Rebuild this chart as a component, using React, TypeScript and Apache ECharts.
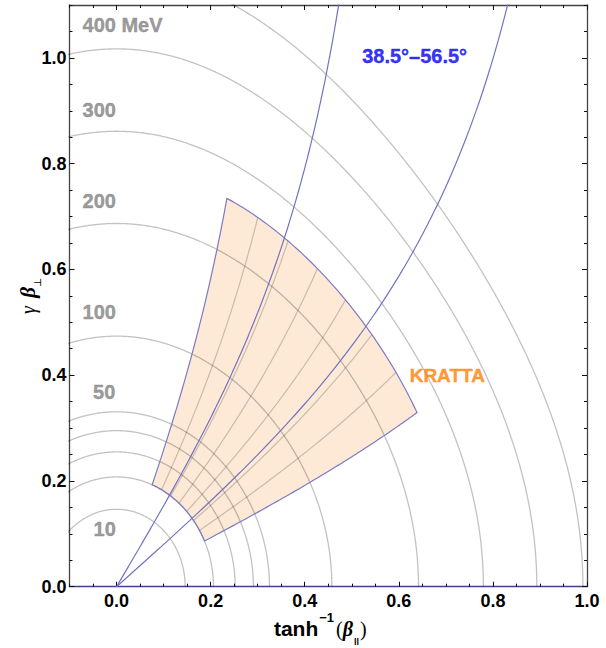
import React, { useEffect, useRef } from 'react';
import * as echarts from 'echarts';

// ---- data ----
const PROTON_MASS = 938.272; // MeV
const energyLevels = [10, 20, 30, 40, 50, 100, 200, 300, 400, 500]; // constant kinetic-energy contours (MeV)
const angleLines = [38.5, 56.5]; // constant lab-angle lines (deg)
const krattaAngleRange = [24.6, 68.2]; // deg
const krattaEnergyRange = [20, 258]; // MeV
const krattaColumns = 7;

const energyLabelText = ['400 MeV', '300', '200', '100', '50', '10'];
const energyLabelX = [-0.0734, -0.0734, -0.0734, -0.0734, -0.051, -0.05];
const energyLabelY = [1.062, 0.901, 0.73, 0.519, 0.369, 0.109];

const angleLabelText = ['38.5°–56.5°'];
const angleLabelX = [0.521];
const angleLabelY = [1.004];

const detectorLabelText = ['KRATTA'];
const detectorLabelX = [0.622];
const detectorLabelY = [0.3996];

const xTickLabels = [0, 0.2, 0.4, 0.6, 0.8, 1.0];
const yTickLabels = [0, 0.2, 0.4, 0.6, 0.8, 1.0];
const X_MIN = -0.1;
const X_MAX = 1.0;
const Y_MIN = 0;
const Y_MAX = 1.1;
const MINOR_STEP = 0.05;

// ---- kinematics helpers ----
function kinPoint(T: number, thetaDeg: number): number[] {
  const g = 1 + T / PROTON_MASS;
  const P = Math.sqrt(g * g - 1);
  const th = (thetaDeg * Math.PI) / 180;
  return [Math.atanh((P * Math.cos(th)) / g), P * Math.sin(th)];
}
function momentumPoint(P: number, thetaDeg: number): number[] {
  const th = (thetaDeg * Math.PI) / 180;
  const g = Math.sqrt(1 + P * P);
  return [Math.atanh((P * Math.cos(th)) / g), P * Math.sin(th)];
}
function energyArc(T: number): number[][] {
  const pts: number[][] = [];
  for (let i = 0; i <= 720; i++) pts.push(kinPoint(T, (180 * i) / 720));
  return pts;
}
function angleLine(thetaDeg: number): number[][] {
  const pts: number[][] = [];
  const pMax = Y_MAX / Math.sin((thetaDeg * Math.PI) / 180) + 0.05;
  for (let i = 0; i <= 300; i++) pts.push(momentumPoint((pMax * i) / 300, thetaDeg));
  return pts;
}
function krattaOutline(): number[][] {
  const [t0, t1] = krattaAngleRange;
  const [e0, e1] = krattaEnergyRange;
  const N = 80;
  const pts: number[][] = [];
  for (let i = 0; i <= N; i++) pts.push(kinPoint(e0, t0 + ((t1 - t0) * i) / N));
  for (let i = 1; i <= N; i++) pts.push(kinPoint(e0 + ((e1 - e0) * i) / N, t1));
  for (let i = 1; i <= N; i++) pts.push(kinPoint(e1, t1 - ((t1 - t0) * i) / N));
  for (let i = 1; i < N; i++) pts.push(kinPoint(e1 - ((e1 - e0) * i) / N, t0));
  return pts;
}
function krattaMesh(): number[][][] {
  const [t0, t1] = krattaAngleRange;
  const [e0, e1] = krattaEnergyRange;
  const lines: number[][][] = [];
  for (let k = 1; k < krattaColumns; k++) {
    const th = t0 + ((t1 - t0) * k) / krattaColumns;
    const l: number[][] = [];
    for (let i = 0; i <= 60; i++) l.push(kinPoint(e0 + ((e1 - e0) * i) / 60, th));
    lines.push(l);
  }
  return lines;
}
function minorTicks(min: number, max: number, majors: number[]): number[] {
  const out: number[] = [];
  const n = Math.round((max - min) / MINOR_STEP);
  for (let i = 0; i <= n; i++) {
    const v = Math.round((min + i * MINOR_STEP) * 1000) / 1000;
    if (!majors.some((m) => Math.abs(m - v) < 1e-6)) out.push(v);
  }
  return out;
}

const SANS = "'Liberation Sans', Arial, Helvetica, sans-serif";
const SERIF = "'Liberation Serif', 'DejaVu Serif', serif";
const FRAME = '#444444';

export default function App() {
  const ref = useRef<HTMLDivElement>(null);
  useEffect(() => {
    const chart = echarts.init(ref.current!, null, { renderer: 'svg' });

    const xMinor = minorTicks(X_MIN, X_MAX, xTickLabels);
    const yMinor = minorTicks(Y_MIN, Y_MAX, yTickLabels);

    const mkX = (position: string, ticks: number[], len: number, labels: boolean, line: boolean, lineColor: string, extra: any = {}) => ({
      type: 'value',
      position,
      min: X_MIN,
      max: X_MAX,
      splitLine: { show: false },
      axisLine: { show: line, onZero: false, lineStyle: { color: lineColor, width: 1.3 } },
      axisTick: { show: true, inside: true, length: len, customValues: ticks, lineStyle: { color: '#111', width: 1 } },
      axisLabel: labels
        ? { show: true, customValues: ticks, margin: 5, formatter: (v: number) => v.toFixed(1), fontFamily: SANS, fontWeight: 'bold', fontSize: 18, color: '#000' }
        : { show: false },
      ...extra,
    });
    const mkY = (position: string, ticks: number[], len: number, labels: boolean, line: boolean, lineColor: string, extra: any = {}) => ({
      type: 'value',
      position,
      min: Y_MIN,
      max: Y_MAX,
      splitLine: { show: false },
      axisLine: { show: line, onZero: false, lineStyle: { color: lineColor, width: 1.3 } },
      axisTick: { show: true, inside: true, length: len, customValues: ticks, lineStyle: { color: '#111', width: 1 } },
      axisLabel: labels
        ? { show: true, customValues: ticks, margin: 3, formatter: (v: number) => v.toFixed(1), fontFamily: SANS, fontWeight: 'bold', fontSize: 18, color: '#000' }
        : { show: false },
      ...extra,
    });

    const xName = {
      name: '{t|tanh}{sup|−1}{p|(}{b|β}{sub|ll}{p|)}',
      nameLocation: 'middle',
      nameGap: 24,
      nameMoveOverlap: false,
      nameTextStyle: {
        padding: [0, 16, 0, 0],
        rich: {
          t: { fontFamily: SANS, fontWeight: 'bold', fontSize: 21, lineHeight: 36, color: '#000' },
          sup: { fontFamily: SANS, fontWeight: 'bold', fontSize: 13, verticalAlign: 'top', color: '#000', padding: [0, 2, 0, 1] },
          p: { fontFamily: SERIF, fontSize: 20, lineHeight: 36, color: '#000' },
          b: { fontFamily: SERIF, fontWeight: 'bold', fontStyle: 'italic', fontSize: 20, lineHeight: 36, color: '#000' },
          sub: { fontFamily: SANS, fontWeight: 'bold', fontSize: 9, verticalAlign: 'bottom', lineHeight: 30, color: '#000', padding: [0, 1, 0, 1] },
        },
      },
    };
    const yName = {
      name: '{g|γ} {b|β}{sub|⊥}',
      nameLocation: 'middle',
      nameRotate: 90,
      nameGap: 27,
      nameMoveOverlap: false,
      nameTextStyle: {
        rich: {
          g: { fontFamily: SERIF, fontStyle: 'italic', fontSize: 20, lineHeight: 30, color: '#000', padding: [0, 5, 0, 0] },
          b: { fontFamily: SERIF, fontWeight: 'bold', fontStyle: 'italic', fontSize: 21, lineHeight: 30, color: '#000' },
          sub: { fontFamily: SERIF, fontSize: 10, verticalAlign: 'bottom', lineHeight: 14, color: '#000' },
        },
      },
    };

    const arcSeries = energyLevels.map((T) => ({
      type: 'line',
      name: `${T} MeV`,
      data: energyArc(T),
      showSymbol: false,
      symbol: 'none',
      silent: true,
      z: 3,
      lineStyle: { color: 'rgba(0,0,0,0.24)', width: 1.3 },
    }));
    const angleSeries = angleLines.map((th) => ({
      type: 'line',
      name: `${th}°`,
      data: angleLine(th),
      showSymbol: false,
      symbol: 'none',
      silent: true,
      z: 5,
      lineStyle: { color: '#7272c2', width: 1.2 },
    }));

    const outline = krattaOutline();
    const mesh = krattaMesh();

    const textSeries = (texts: string[], xs: number[], ys: number[], color: string, fontSize: number, z: number) => ({
      type: 'scatter',
      symbolSize: 1,
      silent: true,
      z,
      itemStyle: { color: 'rgba(0,0,0,0)' },
      data: texts.map((t, i) => ({ name: t, value: [xs[i], ys[i]] })),
      label: {
        show: true,
        position: 'right',
        distance: 0,
        formatter: '{b}',
        fontFamily: SANS,
        fontWeight: 'bold',
        fontSize,
        color,
        textBorderColor: color,
        textBorderWidth: 0.4,
      },
    });

    const option: any = {
      animation: false,
      backgroundColor: '#ffffff',
      grid: { left: 69.5, right: 19, top: 5, bottom: 61.3, containLabel: false, outerBoundsMode: 'none' },
      xAxis: [
        mkX('bottom', xTickLabels, 5, true, true, '#42428f', xName),
        mkX('bottom', xMinor, 3, false, false, FRAME),
        mkX('top', xTickLabels, 5, false, true, FRAME),
        mkX('top', xMinor, 3, false, false, FRAME),
      ],
      yAxis: [
        mkY('left', yTickLabels, 5, true, true, FRAME, yName),
        mkY('left', yMinor, 3, false, false, FRAME),
        mkY('right', yTickLabels, 5, false, true, FRAME),
        mkY('right', yMinor, 3, false, false, FRAME),
      ],
      series: [
        {
          type: 'custom',
          name: 'KRATTA fill',
          silent: true,
          z: 1,
          data: [[0, 0]],
          renderItem: (_p: any, api: any) => ({
            type: 'polygon',
            shape: { points: outline.map((p) => api.coord(p)) },
            style: { fill: '#fde9d6', stroke: 'none' },
          }),
        },
        ...arcSeries,
        {
          type: 'custom',
          name: 'KRATTA mesh',
          silent: true,
          z: 4,
          data: [[0, 0]],
          renderItem: (_p: any, api: any) => ({
            type: 'group',
            children: [
              ...mesh.map((l) => ({
                type: 'polyline',
                shape: { points: l.map((p) => api.coord(p)) },
                style: { fill: 'none', stroke: 'rgba(0,0,0,0.2)', lineWidth: 1.2 },
              })),
              {
                type: 'polygon',
                shape: { points: outline.map((p) => api.coord(p)) },
                style: { fill: 'none', stroke: '#7b7bc6', lineWidth: 1.2 },
              },
            ],
          }),
        },
        ...angleSeries,
        textSeries(energyLabelText, energyLabelX, energyLabelY, '#808080', 20, 6),
        textSeries(angleLabelText, angleLabelX, angleLabelY, '#0000ee', 20, 6),
        textSeries(detectorLabelText, detectorLabelX, detectorLabelY, '#ff7f00', 19, 6),
      ],
    };
    chart.setOption(option);
    return () => chart.dispose();
  }, []);
  return <div ref={ref} style={{ position: 'absolute', left: 0, top: 0, width: 606, height: 648 }} />;
}
